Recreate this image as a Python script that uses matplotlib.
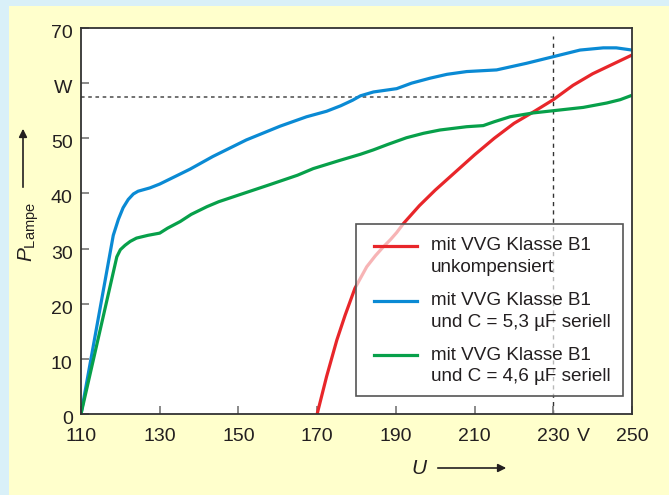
import matplotlib
matplotlib.use('Agg')
import matplotlib.pyplot as plt
from matplotlib.patches import Rectangle, FancyArrowPatch
from matplotlib.lines import Line2D
from matplotlib.transforms import ScaledTranslation

plt.rcParams['font.family'] = ['Liberation Sans', 'DejaVu Sans']
plt.rcParams['mathtext.fontset'] = 'custom'
plt.rcParams['mathtext.rm'] = 'Liberation Sans'
plt.rcParams['mathtext.it'] = 'Liberation Sans:italic'

# Daten (U in V, P in W)
u_blau = [110, 118.2, 119.5, 120.7, 122, 123.3, 124.5, 126, 127.5, 130, 134, 137.7, 143.5, 152,
          160.6, 167.3, 172.4, 176, 179, 181, 184.3, 190.2, 194, 198.7, 203, 208, 215.6, 223.2,
          230, 236.8, 242.7, 246, 250]
p_blau = [0, 32.4, 35.3, 37.4, 38.9, 39.9, 40.4, 40.7, 41.0, 41.7, 43.1, 44.4, 46.7, 49.7,
          52.2, 53.9, 54.9, 55.9, 56.9, 57.7, 58.4, 59.0, 60.0, 60.9, 61.6, 62.1, 62.4, 63.6,
          64.8, 66.0, 66.4, 66.4, 66.0]

u_gruen = [110, 119.1, 120, 121.2, 122.5, 124.1, 127, 130, 132, 135.2, 138, 142, 145, 149.6,
           158, 165, 169, 175.8, 181, 184.3, 188, 192.7, 197, 201.2, 208, 212.2, 215, 219,
           224.9, 230, 237.6, 243.6, 247, 250]
p_gruen = [0, 28.5, 29.8, 30.6, 31.3, 31.9, 32.4, 32.8, 33.7, 34.9, 36.2, 37.6, 38.5, 39.6,
           41.6, 43.3, 44.5, 46.0, 47.1, 47.9, 48.9, 50.1, 50.9, 51.5, 52.1, 52.3, 53.0, 53.9,
           54.6, 55.0, 55.6, 56.4, 57.0, 57.8]

u_rot = [170, 172.4, 175, 177.1, 179.6, 182.6, 184.8, 186.8, 188.6, 190.2, 192, 196, 200, 205,
         210, 215, 220, 225, 230, 235, 240, 245, 250]
p_rot = [0, 6.8, 13.4, 17.9, 22.8, 26.7, 28.7, 30.3, 31.6, 32.9, 34.6, 37.8, 40.6, 43.8,
         47.0, 50.0, 52.7, 54.8, 57.0, 59.6, 61.7, 63.4, 65.1]

x_ticks = [110, 130, 150, 170, 190, 210, 230, 250]
y_ticks = [0, 10, 20, 30, 40, 50, 60, 70]
y_labels = ['0', '10', '20', '30', '40', '50', 'W', '70']

legende = [
    ('#e8262a', 'mit VVG Klasse B1', 'unkompensiert'),
    ('#0a8ad4', 'mit VVG Klasse B1', 'und C = 5,3 \u00b5F seriell'),
    ('#07a04a', 'mit VVG Klasse B1', 'und C = 4,6 \u00b5F seriell'),
]

text_farbe = '#231f20'

fig = plt.figure(figsize=(6.69, 4.95), dpi=100, facecolor='#d9f0f8')
fig.add_artist(Rectangle((9 / 669, 0), 1, (495 - 6) / 495, transform=fig.transFigure,
                         facecolor='#ffffcc', edgecolor='none', zorder=-5))

ax = fig.add_axes([81 / 669, 81 / 495, 551 / 669, 386 / 495])
ax.set_facecolor('white')

# Hilfslinien bei 230 V
ax.plot([230, 230], [0, 68.6], color='#333333', lw=1.0, ls=(0, (3, 3)), zorder=1.5)
ax.plot([110, 230], [57.4, 57.4], color='#666666', lw=1.3, ls=(0, (2, 2)), zorder=1.5)

ax.plot(u_rot, p_rot, color=legende[0][0], lw=2.3, zorder=2, solid_capstyle='butt')
ax.plot(u_blau, p_blau, color=legende[1][0], lw=2.3, zorder=2, solid_capstyle='butt')
ax.plot(u_gruen, p_gruen, color=legende[2][0], lw=2.3, zorder=2, solid_capstyle='butt')

ax.set_xlim(110, 250)
ax.set_ylim(0, 70)
ax.set_xticks(x_ticks)
ax.set_xticklabels([str(v) for v in x_ticks])
ax.set_yticks(y_ticks)
ax.set_yticklabels(y_labels)
ax.tick_params(direction='in', length=6, width=1.3, color='#808080',
               labelsize=14, labelcolor=text_farbe, top=False, right=False)
ax.tick_params(axis='x', pad=10)
ax.tick_params(axis='y', pad=6)
for lab in ax.get_yticklabels():
    lab.set_transform(lab.get_transform() + ScaledTranslation(0, -2.5 / 72, fig.dpi_scale_trans))
for s in ax.spines.values():
    s.set_color('#333333')
    s.set_linewidth(1.3)

# Einheit V zwischen 230 und 250
ax.text(237.6, 0, 'V', ha='center', va='top', fontsize=14, color=text_farbe, clip_on=False,
        transform=ax.get_xaxis_transform() + ScaledTranslation(0, -10 / 72, fig.dpi_scale_trans))

# Legende von Hand
x0, x1 = (355.5 - 81) / 551, (623 - 81) / 551
y0, y1 = (414 - 396) / 386, (414 - 224) / 386
ax.add_patch(Rectangle((x0, y0), x1 - x0, y1 - y0, transform=ax.transAxes,
                       facecolor=(1, 1, 1, 0.66), edgecolor='#555555', lw=1.2, zorder=5))
zeilen_y = [(246, 268), (300.7, 322.7), (355, 376.7)]
for (farbe, z1, z2), (py1, py2) in zip(legende, zeilen_y):
    yy1 = (414 - py1) / 386
    yy2 = (414 - py2) / 386
    ax.add_line(Line2D([(374 - 81) / 551, (417 - 81) / 551], [yy1, yy1], transform=ax.transAxes,
                       color=farbe, lw=2.3, zorder=6))
    ax.text((431 - 81) / 551, yy1, z1, transform=ax.transAxes, ha='left', va='center',
            fontsize=13.6, color=text_farbe, zorder=6)
    ax.text((431 - 81) / 551, yy2, z2, transform=ax.transAxes, ha='left', va='center',
            fontsize=13.6, color=text_farbe, zorder=6)

# Achsenbeschriftungen mit Pfeilen
fig.text(0.043, 0.531, r'$P_{\mathrm{Lampe}}$', rotation=90, ha='center', va='center',
         fontsize=15, color=text_farbe)
fig.add_artist(FancyArrowPatch((23 / 669, (495 - 190) / 495), (23 / 669, (495 - 126) / 495),
                               transform=fig.transFigure, arrowstyle='-|>',
                               mutation_scale=12, color=text_farbe, lw=1.2))
fig.text(420 / 669, (495 - 469) / 495, r'$U$', ha='center', va='center', fontsize=15, color=text_farbe)
fig.add_artist(FancyArrowPatch((435 / 669, (495 - 468) / 495), (509 / 669, (495 - 468) / 495),
                               transform=fig.transFigure, arrowstyle='-|>',
                               mutation_scale=12, color=text_farbe, lw=1.2))

fig.savefig('out.png', dpi=100, facecolor=fig.get_facecolor())
